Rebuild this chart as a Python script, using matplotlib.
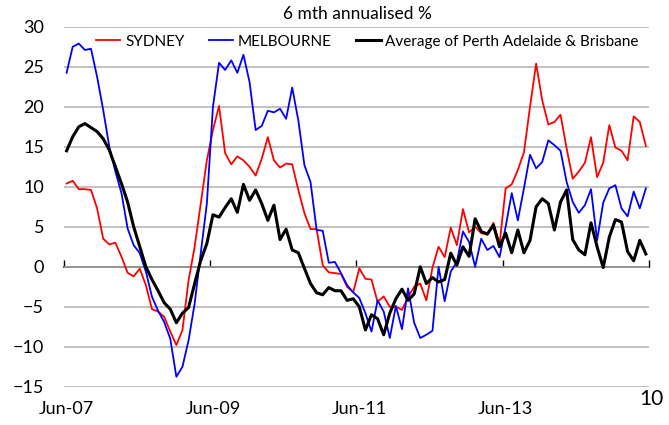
import matplotlib
matplotlib.use("Agg")
import matplotlib.pyplot as plt
import numpy as np

plt.rcParams["font.family"] = ["Lato", "DejaVu Sans"]

# monthly observations, Jun-07 .. May-15
sydney = [
    10.4, 10.75, 9.7, 9.7, 9.6, 7.3, 3.5, 2.8, 3.0, 1.25,
    -0.75, -1.2, -0.25, -2.3, -5.3, -5.6, -6.25, -8.1, -9.8, -7.9,
    -1.7, 2.5, 7.9, 13.3, 17.1, 20.1, 14.2, 12.8, 13.8, 13.3,
    12.5, 11.4, 13.5, 16.2, 13.3, 12.4, 12.9, 12.8, 9.6, 6.7,
    4.7, 4.7, 0.2, -0.7, -0.8, -0.9, -2.5, -3.2, -0.2, -1.5,
    -1.6, -4.4, -3.7, -5.0, -5.0, -5.4, -3.8, -2.5, -2.1, -4.2,
    -0.1, 2.5, 1.2, 4.9, 2.7, 7.2, 4.3, 5.0, 4.2, 4.0,
    5.5, 2.8, 9.8, 10.3, 12.1, 14.3, 20.0, 25.4, 20.8, 17.8,
    18.1, 19.0, 14.8, 11.0, 11.9, 13.0, 16.2, 11.2, 13.0, 17.7,
    14.9, 14.5, 13.3, 18.8, 18.1, 15.1,
]
melbourne = [
    24.25, 27.5, 27.9, 27.1, 27.25, 23.75, 19.6, 15.0, 11.9, 9.2,
    4.8, 2.7, 1.7, -0.6, -3.75, -5.5, -6.9, -9.0, -13.75, -12.5,
    -9.2, -4.6, 1.7, 7.9, 20.0, 25.5, 24.6, 25.8, 24.25, 26.5,
    23.1, 17.1, 17.6, 19.5, 19.3, 19.75, 18.5, 22.4, 18.3, 12.7,
    10.6, 4.6, 4.5, 0.5, 0.6, -0.8, -2.3, -3.2, -3.9, -5.8,
    -8.1, -4.2, -5.6, -8.9, -4.9, -7.8, -2.7, -7.0, -8.9, -8.5,
    -8.0, 0.0, -4.3, -0.6, 0.6, 4.4, 3.1, 0.0, 3.5, 2.1,
    2.6, 1.2, 5.0, 9.2, 5.8, 9.8, 14.0, 12.3, 13.1, 15.8,
    15.2, 14.5, 10.6, 8.1, 6.75, 7.7, 9.7, 3.3, 8.0, 9.8,
    10.2, 7.3, 6.3, 9.4, 7.3, 9.8,
]
per_adl_bne = [
    14.5, 16.25, 17.5, 17.9, 17.4, 16.9, 16.0, 14.6, 12.5, 10.4,
    8.1, 5.0, 2.5, 0.0, -1.6, -3.0, -4.5, -5.3, -7.0, -5.8,
    -5.1, -2.1, 0.8, 2.9, 6.5, 6.2, 7.4, 8.5, 6.8, 10.3,
    8.3, 9.6, 7.9, 5.8, 7.7, 3.4, 4.7, 2.1, 1.75, -0.2,
    -2.1, -3.25, -3.5, -2.6, -3.0, -3.0, -4.2, -4.0, -5.0, -7.9,
    -6.0, -6.5, -8.5, -5.8, -4.0, -2.8, -4.2, -3.4, 0.0, -2.1,
    -1.35, -1.9, -1.6, 1.7, 0.2, 2.5, 1.3, 6.0, 4.4, 4.1,
    5.2, 2.5, 4.2, 1.75, 4.6, 1.75, 3.3, 7.5, 8.5, 7.9,
    4.6, 8.1, 9.6, 3.4, 2.1, 1.5, 5.5, 2.5, -0.1, 3.7,
    5.9, 5.6, 1.9, 0.75, 3.3, 1.6,
]
x_labels = ["Jun-07", "Jun-09", "Jun-11", "Jun-13"]
y_ticks = [30, 25, 20, 15, 10, 5, 0, -5, -10, -15]

months = np.arange(len(sydney))
y_lo, y_hi = -15, 30

fig = plt.figure(figsize=(6.69, 4.25), dpi=100)
ax = fig.add_axes([0.095, 0.09, 0.875, 0.847])

ax.set_ylim(y_lo, y_hi)
ax.set_xlim(-0.5, len(months) - 0.5)
ax.set_yticks(y_ticks)
ax.yaxis.grid(True, color="#b0b0b0", linewidth=1.1)
ax.set_axisbelow(True)
for side in ["top", "right", "left", "bottom"]:
    ax.spines[side].set_visible(False)
ax.tick_params(axis="y", length=0, pad=14, labelsize=13)

# category labels sit at the bottom, one every two years
ax.set_xticks(months[::24])
ax.set_xticklabels(x_labels)
ax.tick_params(axis="x", length=0, pad=10, labelsize=13)

ax.plot(months, sydney, color="#ff0000", lw=1.3, label="SYDNEY")
ax.plot(months, melbourne, color="#0000ff", lw=1.3, label="MELBOURNE")
ax.plot(months, per_adl_bne, color="black", lw=2.2,
        label="Average of Perth Adelaide & Brisbane")

# horizontal axis crosses at zero with inward tick marks
zero_axis = ax.secondary_xaxis((0 - y_lo) / (y_hi - y_lo))
zero_axis.spines["bottom"].set_color("black")
zero_axis.spines["bottom"].set_linewidth(1.1)
zero_axis.set_xticks(np.arange(-0.5, len(months), 24))
zero_axis.tick_params(axis="x", direction="in", length=5, width=1,
                      labelbottom=False, labeltop=False)

ax.legend(loc="upper left", bbox_to_anchor=(0.045, 0.995), ncol=3,
          frameon=False, fontsize=11, handlelength=1.6, handletextpad=0.3,
          columnspacing=1.6, borderaxespad=0)

fig.text(0.535, 0.966, "6 mth annualised %", ha="center", va="center",
         fontsize=12.5)
fig.text(0.955, 0.062, "10", ha="left", va="center", fontsize=15)

fig.savefig("out.png", dpi=100)
